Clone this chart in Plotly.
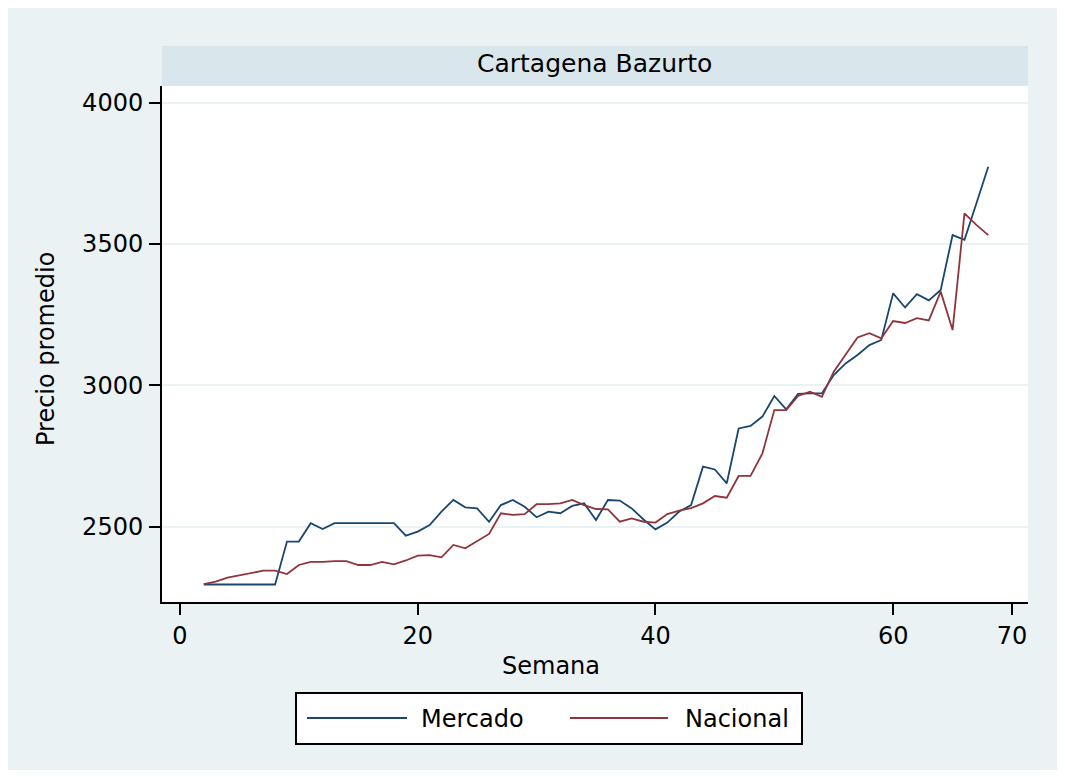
import plotly.graph_objects as go

# ---- data ----
semana = list(range(2, 69))
mercado = [2295, 2295, 2295, 2295, 2295, 2295, 2295, 2447, 2447, 2512,
           2491, 2512, 2512, 2512, 2512, 2512, 2512, 2468, 2482, 2505,
           2553, 2594, 2568, 2564, 2517, 2576, 2594, 2570, 2533, 2553,
           2547, 2573, 2582, 2523, 2594, 2592, 2564, 2525, 2490, 2514,
           2553, 2576, 2712, 2702, 2653, 2847, 2856, 2889, 2962, 2915,
           2969, 2971, 2971, 3036, 3077, 3107, 3142, 3160, 3325, 3275,
           3322, 3300, 3337, 3531, 3514, 3643, 3773]
nacional = [2296, 2305, 2319, 2328, 2335, 2344, 2344, 2332, 2364, 2375,
            2375, 2378, 2378, 2364, 2364, 2375, 2366, 2380, 2397, 2399,
            2391, 2435, 2423, 2449, 2474, 2547, 2541, 2544, 2579, 2579,
            2582, 2594, 2576, 2562, 2561, 2517, 2529, 2517, 2514, 2544,
            2556, 2565, 2582, 2608, 2602, 2679, 2679, 2759, 2912, 2912,
            2962, 2977, 2959, 3048, 3107, 3169, 3184, 3166, 3227, 3220,
            3237, 3229, 3331, 3195, 3608, 3567, 3531]
x_ticks = [0, 20, 40, 60, 70]
y_ticks = [2500, 3000, 3500, 4000]
series_names = ["Mercado", "Nacional"]
series_colors = ["#1a476f", "#90353b"]
panel_title = "Cartagena Bazurto"
x_title = "Semana"
y_title = "Precio promedio"

# ---- layout geometry (screen pixels; page body has an 8px margin) ----
OFF = 8
W, H = 1058 - OFF, 770 - OFF
PL, PR, PT, PB = 162, 1028, 86, 602  # plot area in screen px
FONT = "DejaVu Sans"
FS = 24
BG = "#EAF2F3"
STRIP = "#D9E6EB"


def px(x):
    return (x - PL) / (PR - PL)


def py(y):
    return (PB - y) / (PB - PT)


fig = go.Figure()
for name, vals, col in zip(series_names, [mercado, nacional], series_colors):
    fig.add_trace(go.Scatter(x=semana, y=vals, mode="lines", name=name,
                             line=dict(color=col, width=1.8), showlegend=False))

shapes = [
    # strip
    dict(type="rect", xref="paper", yref="paper", x0=0, x1=1, y0=1, y1=py(46),
         fillcolor=STRIP, line=dict(width=0), layer="below"),
    # legend box
    dict(type="rect", xref="paper", yref="paper", x0=px(296), x1=px(802),
         y0=py(744), y1=py(693), fillcolor="white",
         line=dict(color="black", width=2)),
    dict(type="line", xref="paper", yref="paper", x0=px(307), x1=px(407),
         y0=py(718), y1=py(718), line=dict(color=series_colors[0], width=2)),
    dict(type="line", xref="paper", yref="paper", x0=px(570), x1=px(668),
         y0=py(718), y1=py(718), line=dict(color=series_colors[1], width=2)),
]

annotations = [
    dict(text=panel_title, x=px(594), y=py(64), xref="paper", yref="paper",
         showarrow=False, xanchor="center", yanchor="middle",
         font=dict(family=FONT, size=FS + 1, color="black")),
    dict(text=x_title, x=px(551), y=py(666), xref="paper", yref="paper",
         showarrow=False, xanchor="center", yanchor="middle",
         font=dict(family=FONT, size=FS, color="black")),
    dict(text=y_title, x=px(46), y=py(349), xref="paper", yref="paper",
         showarrow=False, xanchor="center", yanchor="middle", textangle=-90,
         font=dict(family=FONT, size=FS, color="black")),
    dict(text=series_names[0], x=px(419), y=py(719), xref="paper", yref="paper",
         showarrow=False, xanchor="left", yanchor="middle",
         font=dict(family=FONT, size=FS, color="black")),
    dict(text=series_names[1], x=px(683), y=py(719), xref="paper", yref="paper",
         showarrow=False, xanchor="left", yanchor="middle",
         font=dict(family=FONT, size=FS, color="black")),
]

x0_px, scale_x = 180, 11.886
y4000_px, scale_y = 102.5, 0.2827
x_range = [(PL - x0_px) / scale_x, (PR - x0_px) / scale_x]
y_range = [4000 - (PB - y4000_px) / scale_y, 4000 + (y4000_px - PT) / scale_y]

fig.update_layout(
    width=W, height=H,
    margin=dict(l=PL - OFF, r=(W + OFF) - PR, t=PT - OFF, b=(H + OFF) - PB, pad=0),
    paper_bgcolor=BG, plot_bgcolor="white",
    font=dict(family=FONT, size=FS, color="black"),
    shapes=shapes, annotations=annotations, showlegend=False,
    xaxis=dict(range=x_range, tickvals=x_ticks, ticks="outside", ticklen=11,
               tickwidth=1.5, tickcolor="black", showline=True, linecolor="black",
               linewidth=2, showgrid=False, zeroline=False,
               tickfont=dict(family=FONT, size=FS, color="black")),
    yaxis=dict(range=y_range, tickvals=y_ticks, ticks="outside", ticklen=11,
               tickwidth=1.5, tickcolor="black", showline=True, linecolor="black",
               linewidth=2, showgrid=True, gridcolor=BG, gridwidth=1.5,
               zeroline=False, ticklabelstandoff=1,
               tickfont=dict(family=FONT, size=FS, color="black")),
)

fig.write_html("out.html")
